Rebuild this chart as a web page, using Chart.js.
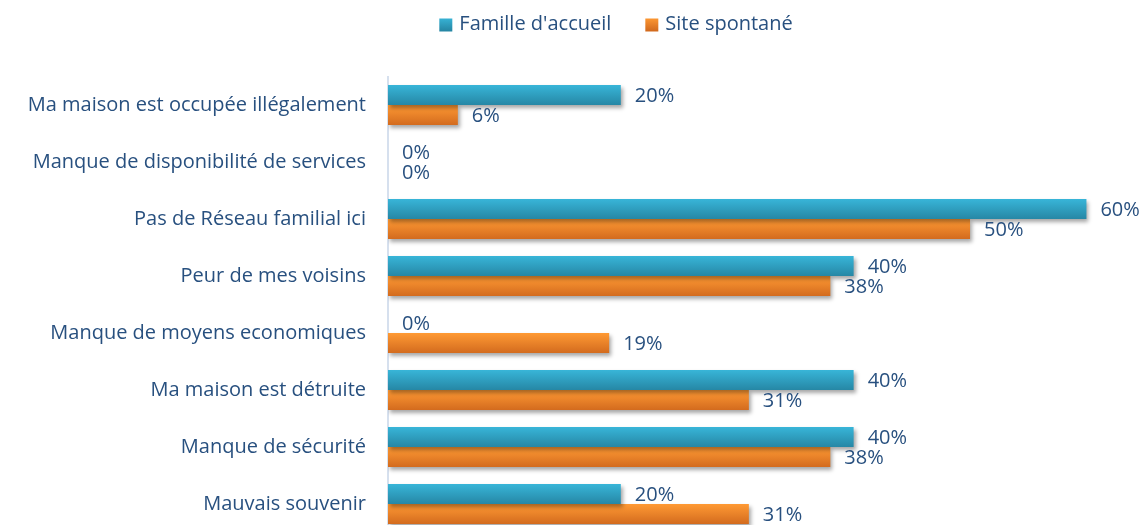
<!DOCTYPE html>
<html>
<head>
<meta charset="utf-8">
<script src="https://cdn.jsdelivr.net/npm/chart.js@4/dist/chart.umd.min.js"></script>
<style>
  html, body { margin: 0; padding: 0; overflow: hidden; background: #fff; width: 1146px; height: 525px; }
  canvas { display: block; }
</style>
</head>
<body>
<canvas id="c" width="1146" height="535"></canvas>
<script>
// Reasons given for not returning home, by type of shelter (%)
const categories = [
  'Ma maison est occupée illégalement',
  'Manque de disponibilité de services',
  'Pas de Réseau familial ici',
  'Peur de mes voisins',
  'Manque de moyens economiques',
  'Ma maison est détruite',
  'Manque de sécurité',
  'Mauvais souvenir'
];
const seriesNames = ["Famille d'accueil", 'Site spontané'];
const familleAccueil = [20, 0, 60, 40, 0, 40, 40, 20];
const siteSpontane   = [6, 0, 50, 38, 19, 31, 38, 31];

const TEXT = '#28507f';
const FONT = '"Open Sans"';
const palettes = [['#38b5d8', '#2687a5'], ['#ff9a34', '#d36b1e']];

function vgrad(ctx, top, bottom, pal) {
  const g = ctx.createLinearGradient(0, top, 0, bottom);
  g.addColorStop(0, pal[0]);
  g.addColorStop(1, pal[1]);
  return g;
}

// Vertical gradient fill, soft drop shadow, value labels and the legend
const barStyle = {
  id: 'barStyle',
  beforeDatasetsDraw(chart) {
    chart.data.datasets.forEach((ds, i) => {
      chart.getDatasetMeta(i).data.forEach(el => {
        const h = el.height;
        el.options = Object.assign({}, el.options, {
          backgroundColor: vgrad(chart.ctx, el.y - h / 2, el.y + h / 2, palettes[i])
        });
      });
    });
  },
  beforeDatasetDraw(chart) {
    const c = chart.ctx;
    c.save();
    c.shadowColor = 'rgba(0,0,0,0.35)';
    c.shadowBlur = 4;
    c.shadowOffsetX = 2;
    c.shadowOffsetY = 3;
  },
  afterDatasetDraw(chart) {
    chart.ctx.restore();
  },
  afterDatasetsDraw(chart) {
    const c = chart.ctx;
    c.save();
    c.font = '20px ' + FONT;
    c.fillStyle = TEXT;
    c.textAlign = 'left';
    c.textBaseline = 'middle';
    chart.data.datasets.forEach((ds, i) => {
      chart.getDatasetMeta(i).data.forEach((el, j) => {
        c.fillText(ds.data[j] + '%', el.x + 14, el.y + 1);
      });
    });
    c.restore();
  },
  afterDraw(chart) {
    const c = chart.ctx;
    c.save();
    c.font = '20px ' + FONT;
    c.textBaseline = 'middle';
    c.textAlign = 'left';
    const box = 13, gap = 7, spacing = 34;
    const widths = seriesNames.map(n => c.measureText(n).width);
    const total = widths.reduce((a, w) => a + box + gap + w, 0) + spacing;
    let x = 616 - total / 2;
    const y = 24;
    seriesNames.forEach((n, i) => {
      c.fillStyle = vgrad(c, y - box / 2, y + box / 2, palettes[i]);
      c.fillRect(x, y - box / 2 + 1, box, box);
      x += box + gap;
      c.fillStyle = TEXT;
      c.fillText(n, x, y);
      x += widths[i] + spacing;
    });
    c.restore();
  }
};

new Chart(document.getElementById('c'), {
  type: 'bar',
  data: {
    labels: categories,
    datasets: [
      { label: seriesNames[0], data: familleAccueil, backgroundColor: palettes[0][0],
        barPercentage: 1.0, categoryPercentage: 0.7 },
      { label: seriesNames[1], data: siteSpontane, backgroundColor: palettes[1][0],
        barPercentage: 1.0, categoryPercentage: 0.7 }
    ]
  },
  options: {
    indexAxis: 'y',
    responsive: false,
    maintainAspectRatio: false,
    animation: false,
    devicePixelRatio: 1,
    layout: { padding: { top: 76.5, bottom: 2.5, left: 0, right: 13 } },
    plugins: { legend: { display: false }, tooltip: { enabled: false } },
    scales: {
      x: { display: false, min: 0, max: 64 },
      y: {
        grid: { display: false, drawTicks: false },
        border: { display: true, color: '#d6e0ee', width: 2 },
        ticks: { color: TEXT, font: { family: FONT, size: 20 }, padding: 22 },
        afterFit(scale) {
          scale.width = 388;
          scale.paddingTop = 0;
          scale.paddingBottom = 0;
        }
      }
    }
  },
  plugins: [barStyle]
});
</script>
</body>
</html>
